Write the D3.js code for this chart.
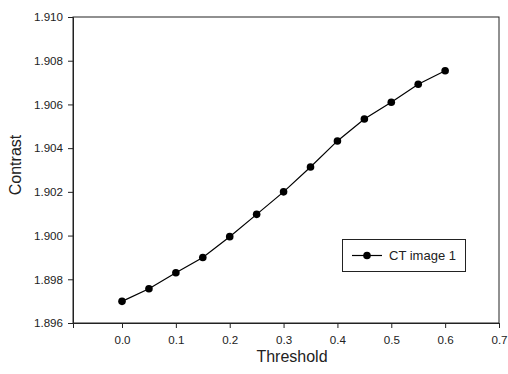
<!DOCTYPE html>
<html><head><meta charset="utf-8">
<script src="https://cdn.jsdelivr.net/npm/d3@7"></script>
<style>body{margin:0;background:#fff}svg{display:block;font-family:"Liberation Sans",Arial,sans-serif}</style>
</head><body>
<script>
const thresholds = [0.0,0.05,0.1,0.15,0.2,0.25,0.3,0.35,0.4,0.45,0.5,0.55,0.6];
const contrast = [1.89699,1.89757,1.89830,1.89900,1.89995,1.90097,1.90200,1.90314,1.90433,1.90533,1.90610,1.90692,1.90754];
const xTicks = [0.0,0.1,0.2,0.3,0.4,0.5,0.6,0.7];
const yTicks = [1.896,1.898,1.900,1.902,1.904,1.906,1.908,1.910];
const seriesName = "CT image 1";

const W=508,H=374;
const m={l:73,r:9,t:17,b:51};
const svg=d3.select("body").append("svg").attr("width",W).attr("height",H);
const x=d3.scaleLinear().domain([-0.091,0.7]).range([m.l,W-m.r]);
const y=d3.scaleLinear().domain([1.896,1.910]).range([H-m.b,m.t]);

// frame
svg.append("rect").attr("x",m.l).attr("y",m.t).attr("width",W-m.r-m.l).attr("height",H-m.b-m.t)
  .attr("fill","none").attr("stroke","#222").attr("stroke-width",1);

const xa=svg.append("g").attr("transform",`translate(0,${H-m.b})`)
  .call(d3.axisBottom(x).tickValues(xTicks).tickFormat(d3.format(".1f")).tickSize(5).tickPadding(8));
const ya=svg.append("g").attr("transform",`translate(${m.l},0)`)
  .call(d3.axisLeft(y).tickValues(yTicks).tickFormat(d3.format(".3f")).tickSize(5).tickPadding(5));
[xa,ya].forEach(a=>{a.select(".domain").attr("stroke","#222");a.selectAll(".tick line").attr("stroke","#222");
  a.selectAll("text").attr("font-size","11.6px").attr("fill","#222").attr("font-family","Liberation Sans, Arial, sans-serif");});

const line=d3.line().x((d,i)=>x(thresholds[i])).y(d=>y(d));
svg.append("path").datum(contrast).attr("d",line).attr("fill","none").attr("stroke","#000").attr("stroke-width",1.2);
svg.selectAll("circle.pt").data(contrast).join("circle").attr("class","pt")
  .attr("cx",(d,i)=>x(thresholds[i])).attr("cy",d=>y(d)).attr("r",3.8).attr("fill","#000");

svg.append("text").attr("x",292).attr("y",362).attr("text-anchor","middle").attr("font-size","16px").attr("fill","#222").text("Threshold");
svg.append("text").attr("transform","translate(21,165) rotate(-90)").attr("text-anchor","middle").attr("font-size","16px").attr("fill","#222").text("Contrast");

// legend
const lg=svg.append("g");
lg.append("rect").attr("x",342.5).attr("y",239.5).attr("width",123).attr("height",32).attr("fill","#fff").attr("stroke","#222");
lg.append("line").attr("x1",352).attr("x2",382).attr("y1",255.5).attr("y2",255.5).attr("stroke","#000").attr("stroke-width",1.2);
lg.append("circle").attr("cx",367).attr("cy",255.5).attr("r",3.8).attr("fill","#000");
lg.append("text").attr("x",389).attr("y",260).attr("font-size","13px").attr("fill","#222").text(seriesName);
</script>
</body></html>
